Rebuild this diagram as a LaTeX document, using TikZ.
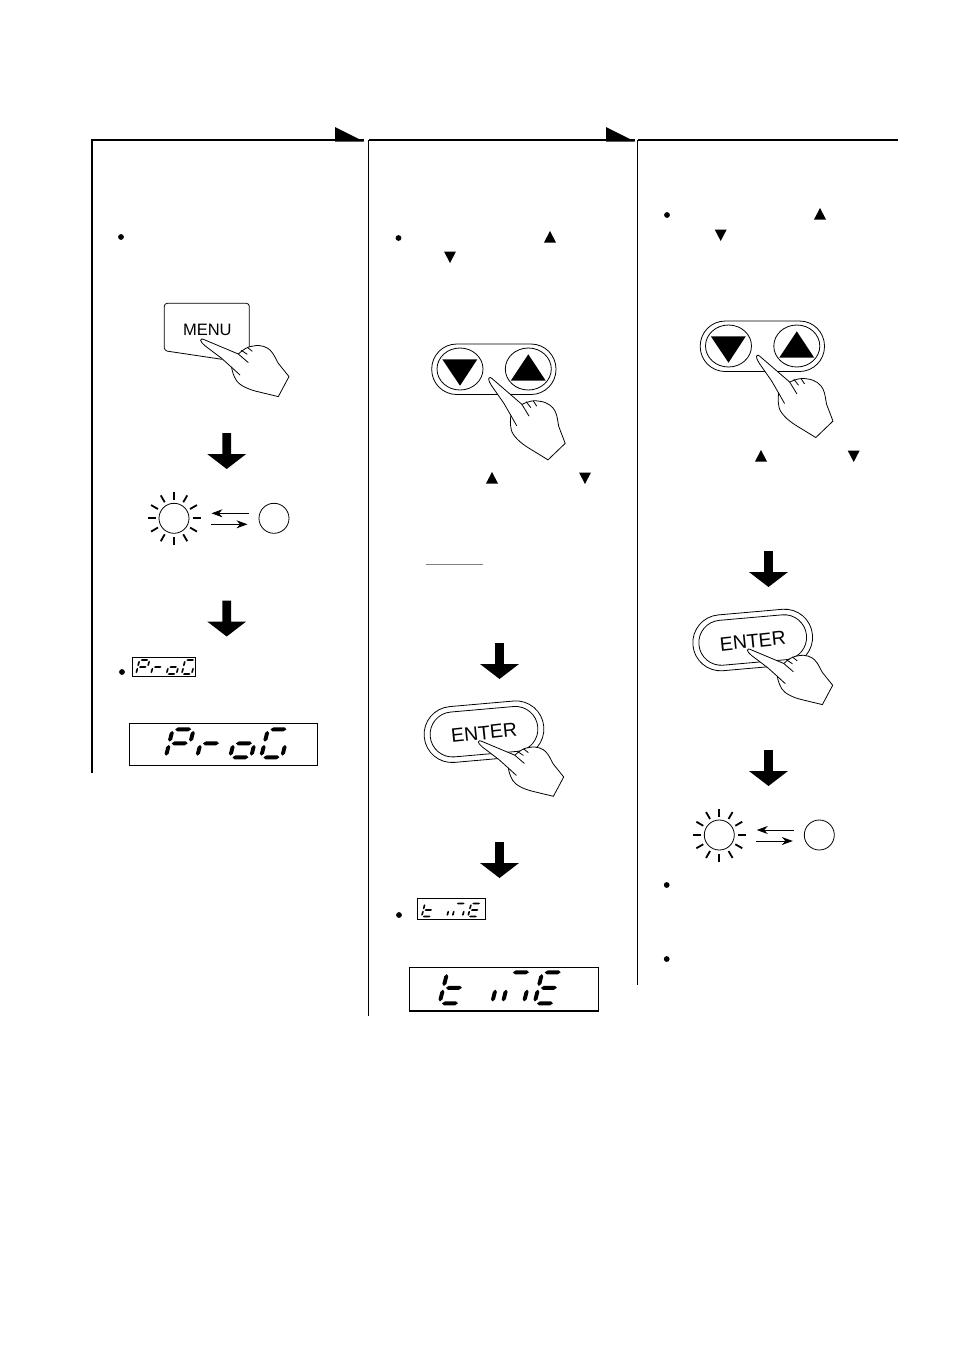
\documentclass[tikz,border=0pt]{standalone}
\usepackage{fontspec}
\setmainfont{Liberation Sans}
\usetikzlibrary{arrows.meta}
% tapered display segments, in units of the digit's width and height
\def\hseg#1#2#3{\fill (#1,#3) -- (#1+.12,#3+\hy) -- (#2-.12,#3+\hy) -- (#2,#3) -- (#2-.12,#3-\hy) -- (#1+.12,#3-\hy) -- cycle;}
\def\vseg#1#2#3{\fill (#1,#2) -- (#1+\hx,#2+.07) -- (#1+\hx,#3-.07) -- (#1,#3) -- (#1-\hx,#3-.07) -- (#1-\hx,#2+.07) -- cycle;}
\def\sga{\hseg{.12}{.88}{1}}
\def\sgb{\vseg{1}{.56}{.94}}
\def\sgc{\vseg{1}{.06}{.44}}
\def\sgd{\hseg{.12}{.88}{0}}
\def\sge{\vseg{0}{.06}{.44}}
\def\sgf{\vseg{0}{.56}{.94}}
\def\sgg{\hseg{.12}{.88}{.5}}
% x, y (bottom-left), w, h, segment thickness, segments
\newcommand\digit[6]{\begin{scope}[shift={(#1,#2)},x=#3pt,y=#4pt,xslant=.25]
\pgfmathsetmacro\hx{#5/(2*#3)}\pgfmathsetmacro\hy{#5/(2*#4)}
\foreach \s in {#6}{\csname sg\s\endcsname}\end{scope}}
\newcommand\bullt[2]{\fill (#1,#2) circle (2.9);}
\newcommand\upt[2]{\fill (#1-6,#2+5.5) -- (#1+6,#2+5.5) -- (#1,#2-6) -- cycle;}
\newcommand\dnt[2]{\fill (#1-6,#2-5.5) -- (#1+6,#2-5.5) -- (#1,#2+6) -- cycle;}
\newcommand\bigarrow[2]{\fill (#1-4.4,#2) -- (#1+4.4,#2) -- (#1+4.4,#2+21) -- (#1+19.5,#2+21) -- (#1,#2+36) -- (#1-19.5,#2+21) -- (#1-4.4,#2+21) -- cycle;}
\newcommand\hand[4]{\begin{scope}[shift={(#1,#2)},rotate=#3,scale=#4,thinl]
\draw[fill=white] (0,0) -- (35,14.7) .. controls (40,10) and (45,7) .. (50,6.7) .. controls (58,5) and (64,8) .. (67,11) .. controls (71,15) and (73,21) .. (75,24) -- (85.7,37.3) -- (75,57.3) -- (53,52) .. controls (45,50) and (36,46) .. (33,41) .. controls (30,36) and (29,32) .. (28.3,28) -- (18.3,19) -- (2,6.7) .. controls (-1,4) and (-3,2) .. (-2.7,1) .. controls (-2.5,-.5) and (-1,-.7) .. (0,0) -- cycle;
\draw (35,14.7) -- (45,23.3);
\draw (28.3,28) -- (36.7,35.7);
\draw (38,11) -- (44,15);
\draw (44,8) -- (49,12);
\end{scope}}
\newcommand\blink[2]{\begin{scope}[shift={(#1,#2)}]
\draw[thinl] (0,0) circle (15) (100,0) circle (15);
\foreach \a in {0,30,...,330}{\draw[line width=1.8pt] (\a:18.5) -- (\a:26.5);}
\draw[thinl,-{Stealth[length=11pt,width=8pt]}] (74.5,-5) -- (37.5,-5);
\draw[thinl,-{Stealth[length=11pt,width=8pt]}] (37,6) -- (73.5,6);
\end{scope}}
\newcommand\pairbtn[2]{\begin{scope}[shift={(#1,#2)}]
\draw[thinl,rounded corners=25] (431.7,344) rectangle (556,394.5);
\draw[thinl] (460,369) ellipse (23 and 21) (528.3,369) ellipse (23 and 21);
\fill (442.3,359.3) -- (477.3,359.3) -- (460,385.7) -- cycle;
\fill (510.7,380.7) -- (545.7,380.7) -- (528.3,354.3) -- cycle;
\end{scope}}
\newcommand\enterbtn[3]{\begin{scope}[shift={(#1,#2)},rotate=5]
\draw[thinl,rounded corners=27.9] (-60,-28) rectangle (60,28);
\draw[thinl,rounded corners=22.4] (-54,-22.5) rectangle (54,22.5);
\node[btntext,rotate=6] (#3) at (0,1) {ENTER};
\end{scope}}
\begin{document}
\begin{tikzpicture}[x=1pt,y=-1pt,
  thinl/.style={line width=.8pt},
  btntext/.style={inner sep=0pt,font=\fontsize{19.5}{19.5}\selectfont}]
\useasboundingbox (0,0) rectangle (954,1350);
\fill[white] (0,0) rectangle (954,1350);
% frame
\draw[line width=1.6pt] (92,773) -- (92,140) -- (364,140);
\draw[line width=1.6pt] (368.5,140) -- (635,140);
\draw[line width=1.6pt] (637.5,140) -- (898,140);
\draw[line width=1pt] (368.5,140) -- (368.5,1016);
\draw[line width=1pt] (637.5,140) -- (637.5,985);
\fill (335,127) -- (364,141.5) -- (335,141.5) -- cycle;
\fill (606,127) -- (635,141.5) -- (606,141.5) -- cycle;
% bullets and small triangles
\bullt{121}{237}\bullt{398.5}{238}\bullt{667}{215}\bullt{122}{672}\bullt{399}{915}\bullt{666.7}{885}\bullt{666.7}{959}
\upt{550}{237}\dnt{450}{257}\upt{492}{478}\dnt{585}{478}
\upt{820}{214}\dnt{720.7}{235}\upt{761}{456}\dnt{853.7}{456}
% big arrows
\bigarrow{226.7}{433}\bigarrow{226.7}{600.5}
\bigarrow{499.5}{643}\bigarrow{499.5}{842}
\bigarrow{768.5}{551}\bigarrow{768.5}{750}
% menu button
\draw[thinl,rounded corners=3] (164.3,340) -- (164.3,303.3) -- (249.3,303.3) -- (249.3,352);
\draw[thinl,rounded corners=3] (164.3,340) -- (164.3,350.7) -- (222,359.3);
\node[inner sep=0pt,font=\fontsize{16.5}{16.5}\selectfont] (menu) at (207.3,330) {MENU};
\hand{203.3}{339.3}{0}{1}
% blinks
\blink{174}{518.3}
\blink{719.3}{835}
% displays
\draw[line width=1.2pt] (129.3,723.3) rectangle (317.3,765.3);
\digit{165.7}{757.3}{21}{28}{4}{a,b,f,g,e}
\digit{197}{757.3}{21}{28}{4}{e,g}
\digit{230}{757.3}{21}{28}{4}{c,d,e,g}
\digit{261}{757.3}{21}{28}{4}{a,f,e,d,c}
\draw[line width=1pt] (132.3,657.3) rectangle (195.7,676);
\digit{136}{674}{10}{14}{1.7}{a,b,f,g,e}
\digit{151}{674}{10}{14}{1.7}{e,g}
\digit{166.5}{674}{10}{14}{1.7}{c,d,e,g}
\digit{181.7}{674}{10}{14}{1.7}{a,f,e,d,c}
\draw[line width=1.2pt] (409.3,967.3) rectangle (598.3,1011);
\digit{439.5}{1003.3}{21}{31}{4}{f,g,e,d}
\digit{471}{1003.3}{21}{31}{4}{c}
\digit{502.7}{1003.3}{21}{31}{4}{a,e,c}
\digit{534.5}{1003.3}{21}{31}{4}{a,f,g,e,d}
\draw[line width=1pt] (417.3,898.3) rectangle (485,919.3);
\digit{421.7}{916.5}{10}{13}{1.7}{f,g,e,d}
\digit{437}{916.5}{10}{13}{1.7}{c}
\digit{452.5}{916.5}{10}{13}{1.7}{a,e,c}
\digit{468}{916.5}{10}{13}{1.7}{a,f,g,e,d}
% pair buttons
\pairbtn{0}{0}
\hand{491.7}{378.3}{-18}{1.05}
\pairbtn{268.5}{-23}
\hand{759.5}{356}{-18}{1.05}
% gray line
\draw[line width=1pt,gray] (425.7,564.3) -- (482.7,564.3);
% enter buttons
\enterbtn{484}{731.7}{enterA}
\hand{481}{741}{0}{.965}
\enterbtn{752.7}{640}{enterB}
\hand{750}{649.3}{0}{.965}
\end{tikzpicture}
\end{document}
